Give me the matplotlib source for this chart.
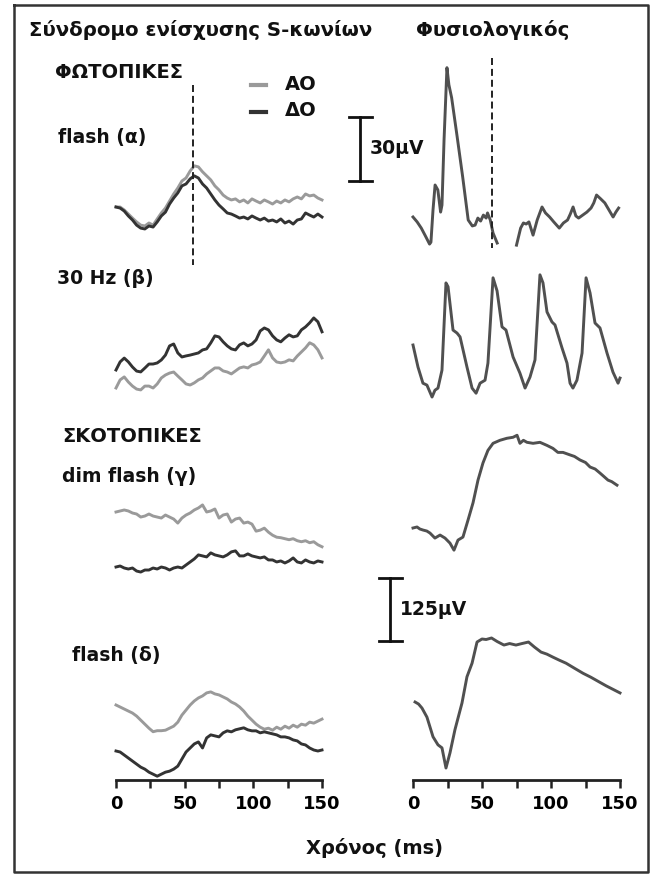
import numpy as np
import matplotlib.pyplot as plt

W, H = 653, 875
K_PHOT = 64 / 30     # px per uV, photopic rows (30uV bar)
K_SCOT = 63 / 125    # px per uV, scotopic rows (125uV bar)

# ---- Σύνδρομο ενίσχυσης S-κωνίων, uV, sampled every 3 ms ----
t3 = np.arange(0, 151, 3)
flash_a_AO = [0, 0, -1.4, -3.3, -5.2, -7.0, -8.5, -8.9, -7.5, -8.5, -5.6, -2.8, -0.5, 2.8, 6.1, 8.9, 12.2,
              13.6, 16.9, 19.3, 18.8, 16.5, 14.6, 12.7, 9.9, 8.0, 5.6, 4.2, 3.3, 3.8, 2.4, 3.3, 1.9, 3.8,
              2.8, 1.9, 3.3, 2.4, 1.4, 2.8, 1.9, 3.3, 2.4, 3.8, 4.7, 3.8, 6.1, 5.2, 5.6, 4.2, 3.3]
flash_a_DO = [0, -0.5, -1.9, -4.2, -6.1, -8.5, -9.9, -10.3, -8.9, -9.4, -7.0, -4.2, -2.4, 1.4, 4.2, 6.6,
              9.9, 10.8, 13.2, 14.6, 13.6, 10.8, 8.9, 6.1, 3.3, 0.9, -0.9, -2.8, -3.3, -4.2, -5.2, -4.7,
              -5.6, -4.2, -5.2, -6.1, -5.2, -6.6, -6.1, -7.0, -5.6, -7.5, -6.6, -8.0, -6.1, -5.6, -2.8,
              -3.8, -4.7, -3.3, -4.7]
hz30_AO = [0, 3.8, 5.2, 2.8, 0.9, -0.5, -0.9, 0.9, 0.9, 0, 1.9, 4.7, 6.1, 7.0, 7.5, 5.6, 3.8, 1.9, 1.4,
           2.4, 3.8, 4.7, 6.6, 8.0, 9.4, 9.4, 8.0, 7.5, 6.6, 8.0, 9.4, 9.9, 9.4, 10.8, 11.3, 12.2, 15.0,
           17.9, 14.1, 12.2, 11.8, 12.2, 13.2, 12.7, 15.0, 16.9, 18.8, 21.2, 20.2, 17.9, 14.1]
hz30_DO = [0, 3.8, 5.6, 3.8, 1.4, -0.5, -0.9, 0.9, 2.8, 2.8, 3.3, 4.7, 7.0, 11.3, 12.2, 8.0, 6.1, 6.6,
           7.0, 7.5, 8.0, 9.4, 9.9, 12.7, 16.0, 15.5, 13.2, 11.3, 9.9, 9.4, 11.8, 12.7, 11.3, 12.2, 14.1,
           18.3, 19.7, 18.8, 16.0, 14.1, 13.2, 15.0, 16.5, 15.5, 16.0, 18.8, 20.2, 22.1, 24.4, 22.6, 17.9]
dim_AO = [0, 2, 4, 2, -2, -4, -10, -8, -4, -8, -10, -12, -6, -10, -14, -22, -12, -6, -2, 4, 8, 14, 0, 2,
          6, -12, -6, -4, -20, -14, -12, -22, -20, -24, -38, -36, -32, -40, -46, -50, -51, -53, -55, -53,
          -57, -59, -57, -61, -59, -65, -69]
dim_DO = [0, 2, -2, -4, -2, -8, -10, -6, -6, -2, -4, 0, -2, -6, -2, 0, -2, 4, 10, 16, 24, 22, 20, 28,
          24, 22, 20, 24, 30, 32, 22, 22, 26, 22, 20, 18, 20, 14, 14, 10, 12, 8, 12, 18, 10, 8, 14, 10,
          8, 12, 10]
flash_d_AO = [0, -4, -8, -12, -16, -22, -30, -38, -46, -53, -51, -51, -50, -46, -42, -34, -20, -10, 0,
              8, 14, 18, 24, 26, 22, 20, 16, 12, 6, 2, -4, -12, -22, -30, -38, -44, -48, -46, -50, -44,
              -48, -42, -46, -40, -44, -38, -40, -34, -36, -32, -28]
flash_d_DO = [0, -2, -8, -14, -20, -26, -32, -36, -42, -46, -50, -46, -42, -40, -36, -30, -16, -2, 6,
              14, 18, 6, 26, 32, 30, 28, 36, 40, 38, 42, 44, 46, 42, 40, 40, 36, 38, 36, 34, 32, 28, 28,
              26, 22, 20, 14, 12, 6, 2, 0, 2]

# ---- Φυσιολογικός ----
nan = np.nan
nf_t = [0, 3, 6, 9, 12, 13, 14.5, 16, 18, 20, 21, 22.5, 24.6, 26, 28, 32, 36, 40, 43, 45, 47, 49, 51,
        53, 54, 56, 58, 61, nan, 75, 78, 80, 82, 84, 87, 90, 93.5, 96, 99, 102, 106, 109, 112, 114, 116,
        118, 120, 123, 126, 129, 131, 133, 136, 139, 142, 145, 147, 149]
nf_v = [0, -2.3, -5.2, -8.9, -12.7, -11.8, 3.3, 15.0, 12.7, 2.3, 5.6, 36.2, 70.0, 62.0, 55.9, 37.6, 18.8,
        -1.4, -4.2, -3.8, -0.5, -1.9, 0.9, -0.5, 1.9, -1.4, -7.5, -12.2, nan, -13.2, -5.2, -2.8, -3.3,
        -2.3, -8.5, -1.4, 4.7, 1.9, 0, -2.3, -5.2, -2.8, -1.4, 1.4, 4.7, 0.5, -0.5, 0.9, 2.3, 4.2, 6.6,
        10.3, 8.5, 6.6, 3.3, 0, 2.3, 4.2]
n30_t = [0, 3.6, 7.2, 10.1, 13.8, 15.9, 18.1, 21, 23.9, 25.4, 29, 31.9, 34.1, 39.1, 42.8, 45.7, 48.6,
         52.2, 54.3, 58, 60.9, 64.5, 67.4, 72.5, 77.5, 81.2, 84.8, 88.4, 92, 94.2, 97.1, 100.7, 102.9,
         108, 111.6, 113.8, 115.9, 118.8, 122.5, 125.4, 128.3, 131.9, 135.5, 140.6, 144.9, 148.6, 150]
n30_v = [0, -10.3, -17.9, -18.8, -24.4, -21.2, -20.2, -11.8, 29.1, 27.3, 7.0, 5.6, 3.8, -10.3, -20.2,
         -22.6, -17.9, -16.5, -8.5, 31.5, 25.4, 8.5, 7.0, -5.6, -13.2, -20.2, -15.0, -7.0, 32.9, 29.1,
         15.5, 10.8, 9.4, -1.4, -8.5, -17.9, -20.2, -16.5, -3.8, 31.5, 24.4, 10.3, 8.0, -3.8, -12.7,
         -17.9, -15.5]
ndim_t = [0, 2.9, 5, 7.2, 10, 12.3, 15.9, 19.6, 23.2, 26.8, 29.7, 32.6, 36.2, 39.9, 43.5, 47.1, 50.7,
          54.3, 58, 63, 68, 72.5, 75.4, 77.5, 80, 82.6, 87, 92, 97, 101.4, 105, 108.7, 113.8, 117, 121,
          125, 128.3, 132, 135.5, 138, 141.3, 144, 147.8]
ndim_v = [0, 2, -2, -4, -6, -10, -20, -14, -20, -30, -44, -24, -18, 16, 50, 95, 129, 154, 168, 174, 178,
          180, 184, 168, 174, 170, 168, 170, 164, 158, 150, 150, 145, 142, 135, 130, 121, 117, 109, 103,
          95, 92, 85]
nfl_t = [1.5, 4, 6.5, 10.1, 14.5, 18.1, 21, 23.9, 26.8, 30.4, 35.5, 39.1, 42.8, 46.4, 50, 53, 56.9, 61,
         65.9, 70, 74.6, 79, 83.7, 88, 92.8, 97, 101.4, 106, 110.9, 117, 123.2, 129, 134.8, 140, 145, 150]
nfl_v = [0, -4, -12, -30, -69, -85, -91, -131, -101, -55, -2, 50, 77, 119, 125, 124, 127, 120, 113, 116,
         113, 116, 119, 109, 99, 95, 89, 83, 77, 67, 57, 49, 40, 32, 25, 18]

xticks = [0, 50, 100, 150]

C_AO = '#9a9a9a'
C_DO = '#333333'
C_N = '#505050'
LW = 2.1
FONT = 'DejaVu Sans'

fig = plt.figure(figsize=(W / 100, H / 100), dpi=100)


def px_axes(x0, x1):
    # column axes: x in ms, y in pixel rows from the top
    ax = fig.add_axes([x0 / W, (H - 780) / H, (x1 - x0) / W, 780 / H])
    ax.set_xlim(0, 150)
    ax.set_ylim(780, 0)
    for s in ['top', 'left', 'right']:
        ax.spines[s].set_visible(False)
    ax.spines['bottom'].set_linewidth(2.0)
    ax.spines['bottom'].set_color('#222222')
    ax.set_yticks([])
    ax.set_xticks(xticks)
    ax.set_xticks([25, 75, 125], minor=True)
    ax.tick_params(axis='x', which='both', direction='out', length=6, width=1.8, color='#222222', pad=5)
    ax.set_xticklabels([str(v) for v in xticks], fontsize=13, fontweight='bold', family=FONT)
    ax.patch.set_visible(False)
    return ax


def trace(ax, t, v, base, k, color):
    y = base - np.array(v, dtype=float) * k
    ax.plot(t, y, color=color, lw=LW, clip_on=False, solid_joinstyle='round')


axL = px_axes(116, 322)
axR = px_axes(413, 620)

trace(axL, t3, flash_a_AO, 207, K_PHOT, C_AO)
trace(axL, t3, flash_a_DO, 207, K_PHOT, C_DO)
trace(axL, t3, hz30_DO, 370, K_PHOT, C_DO)
trace(axL, t3, hz30_AO, 388, K_PHOT, C_AO)
trace(axL, t3, dim_AO, 512, K_SCOT, C_AO)
trace(axL, t3, dim_DO, 567, K_SCOT, C_DO)
trace(axL, t3, flash_d_AO, 705, K_SCOT, C_AO)
trace(axL, t3, flash_d_DO, 751, K_SCOT, C_DO)

trace(axR, nf_t, nf_v, 217, K_PHOT, C_N)
trace(axR, n30_t, n30_v, 345, K_PHOT, C_N)
trace(axR, ndim_t, ndim_v, 528, K_SCOT, C_N)
trace(axR, nfl_t, nfl_v, 702, K_SCOT, C_N)

# implicit-time markers
axL.plot([56, 56], [85, 265], color='#222222', lw=1.4, ls=(0, (3.6, 2.0)), clip_on=False)
axR.plot([57, 57], [58, 248], color='#222222', lw=1.4, ls=(0, (3.6, 2.0)), clip_on=False)

# overlay in figure pixels for labels, legend, scale bars and frame
ov = fig.add_axes([0, 0, 1, 1], zorder=-1)
ov.set_xlim(0, W)
ov.set_ylim(H, 0)
ov.axis('off')

ov.plot([14, 648, 648, 14, 14], [5, 5, 872, 872, 5], color='#333333', lw=1.8)

txt = dict(fontweight='bold', family=FONT, va='center', ha='left', color='#111111')
ov.text(29, 30, 'Σύνδρομο ενίσχυσης S-κωνίων', fontsize=14.2, **txt)
ov.text(416, 30, 'Φυσιολογικός', fontsize=14.2, **txt)
ov.text(55, 72, 'ΦΩΤΟΠΙΚΕΣ', fontsize=14, **txt)
ov.text(58, 137, 'flash (α)', fontsize=13.5, **txt)
ov.text(57, 278, '30 Hz (β)', fontsize=13.5, **txt)
ov.text(62, 437, 'ΣΚΟΤΟΠΙΚΕΣ', fontsize=14, **txt)
ov.text(62, 477, 'dim flash (γ)', fontsize=13.5, **txt)
ov.text(72, 655, 'flash (δ)', fontsize=13.5, **txt)
ov.text(375, 848, 'Χρόνος (ms)', fontsize=14, fontweight='bold', family=FONT,
        va='center', ha='center', color='#111111')

# legend
ov.plot([251, 266], [85, 85], color=C_AO, lw=3)
ov.plot([251, 266], [112, 112], color=C_DO, lw=3)
ov.text(285, 84, 'ΑΟ', fontsize=14, **txt)
ov.text(285, 111, 'ΔΟ', fontsize=14, **txt)

# scale bars
def scale_bar(x, top, length, label):
    ov.plot([x, x], [top, top + length], color='#111111', lw=2)
    ov.plot([x - 11, x + 12], [top, top], color='#111111', lw=2)
    ov.plot([x - 11, x + 12], [top + length, top + length], color='#111111', lw=2)
    ov.text(x + 10, top + length / 2, label, fontsize=13.5, **txt)

scale_bar(360, 117, 30 * K_PHOT, '30µV')
scale_bar(390, 578, 125 * K_SCOT, '125µV')

fig.savefig('out.png', dpi=100)
